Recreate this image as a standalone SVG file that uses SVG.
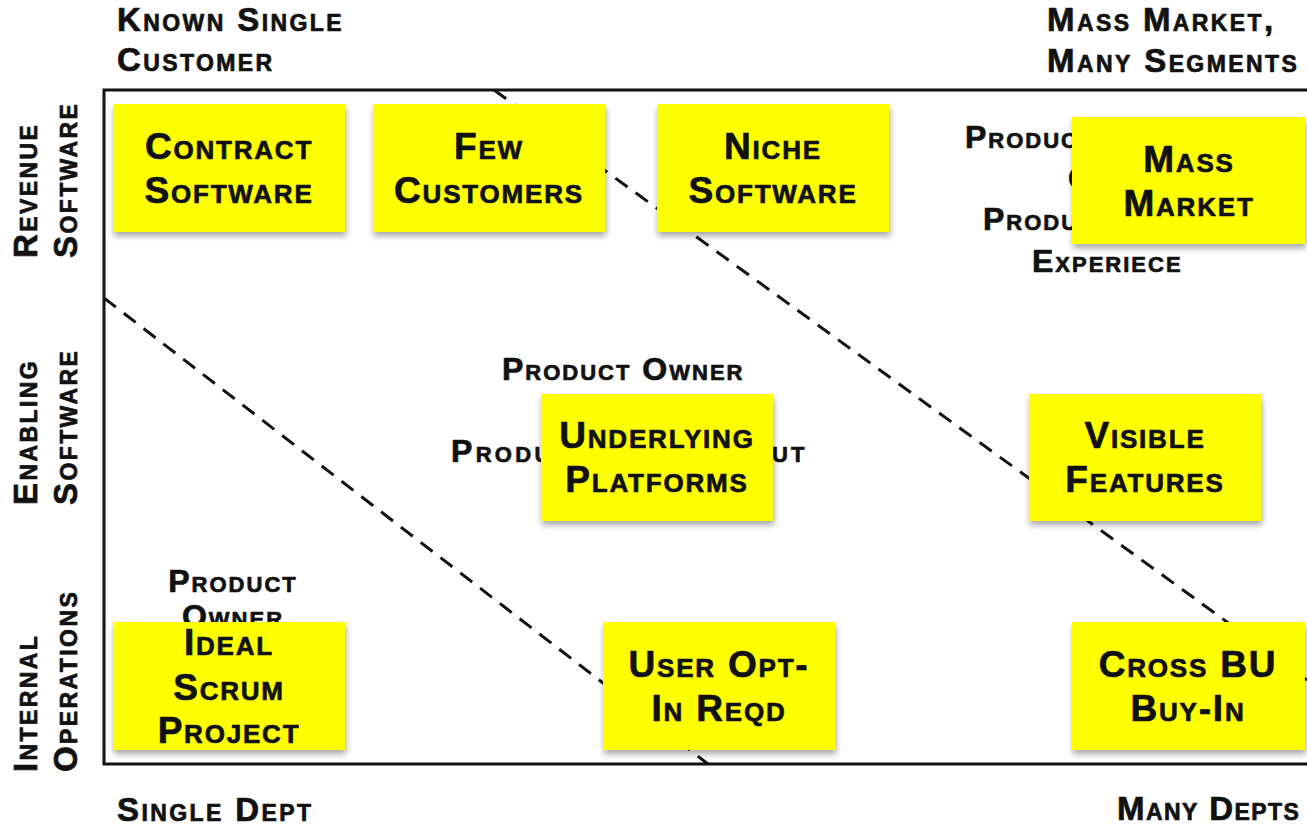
<svg xmlns="http://www.w3.org/2000/svg" width="1307" height="826" viewBox="0 0 1307 826">
  <defs>
    <filter id="noteShadow" x="-10%" y="-10%" width="125%" height="135%">
      <feDropShadow dx="1" dy="4" stdDeviation="3" flood-color="#000" flood-opacity="0.35"/>
    </filter>
    <style>
      text { font-family: "Liberation Sans", Arial, sans-serif; font-weight: bold; font-variant: small-caps; fill: #111; stroke: #111; stroke-width: 0.7px; stroke-linejoin: round; }
      .note rect { fill: #ffff00; filter: url(#noteShadow); }
      .note text { font-size: 37px; letter-spacing: 1.8px; text-anchor: middle; }
      .axis { font-size: 33px; letter-spacing: 2.4px; }
      .bg { font-size: 32px; letter-spacing: 2px; }
      .frame { stroke: #111; stroke-width: 3; fill: none; }
      .divider { stroke: #111; stroke-width: 3; stroke-dasharray: 15 10; fill: none; }
    </style>
  </defs>
  <rect width="1307" height="826" fill="#fff"/>

  <!-- chart frame -->
  <g id="frame">
    <path class="frame" d="M1307 90 H104 V764 H1307"/>
  </g>

  <!-- axis labels -->
  <g id="axis-labels">
    <text class="axis" x="117" y="31">Known Single</text>
    <text class="axis" x="117" y="71">Customer</text>
    <text class="axis" x="1047" y="31">Mass Market,</text>
    <text class="axis" x="1047" y="72">Many Segments</text>
    <text class="axis" x="117" y="821">Single Dept</text>
    <text class="axis" x="1117" y="820" style="letter-spacing:1.4px">Many Depts</text>
    <text class="axis" transform="translate(37,258) rotate(-90)">Revenue</text>
    <text class="axis" transform="translate(77,258) rotate(-90)">Software</text>
    <text class="axis" transform="translate(37,505) rotate(-90)">Enabling</text>
    <text class="axis" transform="translate(77,505) rotate(-90)">Software</text>
    <text class="axis" transform="translate(37,772) rotate(-90)">Internal</text>
    <text class="axis" transform="translate(77,772) rotate(-90)">Operations</text>
  </g>

  <!-- dashed boundaries between zones -->
  <g id="connectors">
    <line class="divider" x1="104" y1="298" x2="708" y2="764"/>
    <line class="divider" x1="494" y1="90" x2="1307" y2="680"/>
  </g>

  <!-- role notes behind the stickies -->
  <g id="roles">
    <text class="bg" x="965" y="148">Product Manager</text>
    <text class="bg" x="1068" y="189">Or</text>
    <text class="bg" x="983" y="230">Product Owner</text>
    <text class="bg" x="1032" y="272">Experiece</text>
    <text class="bg" x="502" y="380">Product Owner</text>
    <text class="bg" x="451" y="462" style="letter-spacing:3.3px">Product Owner Input</text>
    <text class="bg" x="233" y="592" text-anchor="middle">Product</text>
    <text class="bg" x="233" y="627" text-anchor="middle">Owner</text>
  </g>

  <!-- sticky notes -->
  <g id="contract-software" class="note">
    <rect x="113" y="104" width="232" height="128"/>
    <text x="229" y="159">Contract</text>
    <text x="229" y="203">Software</text>
  </g>
  <g id="few-customers" class="note">
    <rect x="373" y="104" width="232" height="128"/>
    <text x="489" y="159">Few</text>
    <text x="489" y="203">Customers</text>
  </g>
  <g id="niche-software" class="note">
    <rect x="657" y="104" width="232" height="128"/>
    <text x="773" y="159">Niche</text>
    <text x="773" y="203">Software</text>
  </g>
  <g id="mass-market" class="note">
    <rect x="1072" y="117" width="233" height="127"/>
    <text x="1189" y="172">Mass</text>
    <text x="1189" y="216">Market</text>
  </g>
  <g id="underlying-platforms" class="note">
    <rect x="541" y="394" width="232" height="127"/>
    <text x="657" y="448">Underlying</text>
    <text x="657" y="492">Platforms</text>
  </g>
  <g id="visible-features" class="note">
    <rect x="1029" y="394" width="232" height="127"/>
    <text x="1145" y="448">Visible</text>
    <text x="1145" y="492">Features</text>
  </g>
  <g id="ideal-scrum-project" class="note">
    <rect x="113" y="622" width="232" height="128"/>
    <text x="229" y="655">Ideal</text>
    <text x="229" y="700">Scrum</text>
    <text x="229" y="743">Project</text>
  </g>
  <g id="user-opt-in" class="note">
    <rect x="603" y="622" width="232" height="128"/>
    <text x="719" y="677">User Opt-</text>
    <text x="719" y="721">In Reqd</text>
  </g>
  <g id="cross-bu" class="note">
    <rect x="1072" y="622" width="233" height="128"/>
    <text x="1188" y="677">Cross BU</text>
    <text x="1188" y="721">Buy-In</text>
  </g>
</svg>
